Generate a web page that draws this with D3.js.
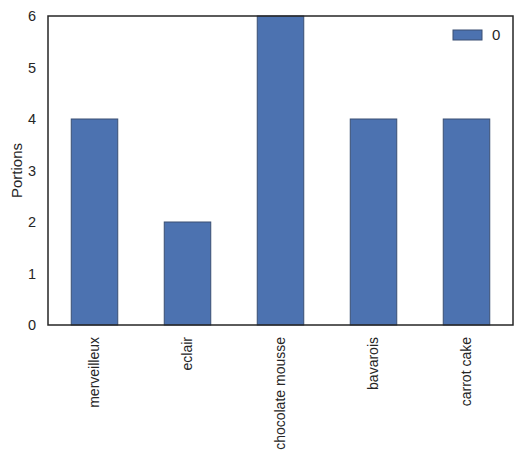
<!DOCTYPE html>
<html><head><meta charset="utf-8">
<script src="https://cdn.jsdelivr.net/npm/d3@7"></script>
<style>body{margin:0;background:#fff}svg{display:block}text{font-family:"Liberation Sans",Arial,sans-serif;fill:#262626}</style>
</head><body>
<script>
const categories = ["merveilleux","eclair","chocolate mousse","bavarois","carrot cake"];
const values = [4,2,6,4,4];
const seriesName = "0";
const yTicks = [0,1,2,3,4,5,6];

const W=523,H=458;
const m={left:48,top:16,right:10,bottom:133};
const pw=W-m.left-m.right, ph=H-m.top-m.bottom;
const svg=d3.select("body").append("svg").attr("width",W).attr("height",H);
const g=svg.append("g").attr("transform",`translate(${m.left},${m.top})`);
const x=d3.scaleBand().domain(categories).range([0,pw]).paddingInner(0.5).paddingOuter(0.25);
const y=d3.scaleLinear().domain([0,6]).range([ph,0]);

g.selectAll("rect.bar").data(values).join("rect").attr("class","bar")
 .attr("x",(d,i)=>x(categories[i])).attr("width",x.bandwidth())
 .attr("y",d=>y(d)).attr("height",d=>y(0)-y(d))
 .attr("fill","#4C72B0").attr("stroke","#3a4f73").attr("stroke-width",1);

const ya=g.append("g").call(d3.axisLeft(y).tickValues(yTicks).tickFormat(d3.format("d")).tickSize(0).tickPadding(12));
ya.select(".domain").remove();
ya.selectAll("text").style("font-size","14.5px").attr("fill","#262626");
const xa=g.append("g").attr("transform",`translate(0,${ph})`).call(d3.axisBottom(x).tickSize(0));
xa.select(".domain").remove();
xa.selectAll("text").style("font-size","14px").attr("fill","#262626")
 .attr("transform","rotate(-90)").attr("text-anchor","end").attr("dx","-12").attr("dy","0.35em").attr("y",0).attr("x",0);

g.append("rect").attr("x",0).attr("y",0).attr("width",pw).attr("height",ph)
 .attr("fill","none").attr("stroke","#262626").attr("stroke-width",1.5);

svg.append("text").attr("transform",`translate(22,${m.top+ph/2}) rotate(-90)`)
 .attr("text-anchor","middle").style("font-size","15px").text("Portions");

const lg=svg.append("g");
lg.append("rect").attr("x",453).attr("y",30).attr("width",29).attr("height",10)
 .attr("fill","#4C72B0").attr("stroke","#3a4f73").attr("stroke-width",1);
lg.append("text").attr("x",492).attr("y",35).attr("dy","0.35em").style("font-size","15px").text(seriesName);
</script>
</body></html>
